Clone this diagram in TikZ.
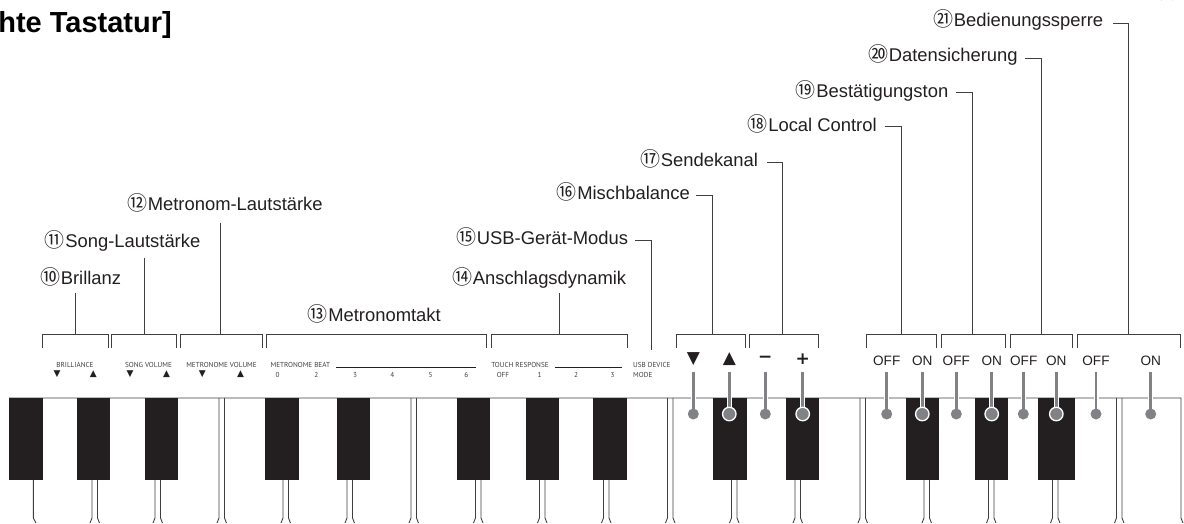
\documentclass[tikz,border=0pt]{standalone}
\usepackage{fontspec}
\setmainfont{Liberation Sans}
\newfontfamily\cjk{Noto Sans CJK JP}
\newfontfamily\din{PT Sans}
\newfontfamily\symf{DejaVu Sans}
\usepackage{tikz}
\usetikzlibrary{positioning, calc}
\definecolor{KB_DARK}{HTML}{231f20}
\definecolor{KB_LINE}{HTML}{3f3f3f}
\definecolor{KB_GREY}{HTML}{808285}
\tikzset{
  lbl/.style={
    inner sep=0pt, anchor=base west,
    text=KB_DARK, font=\fontsize{18.4}{20}\selectfont},
  tiny/.style={
    inner sep=0pt, anchor=base,
    text=KB_LINE, font=\din\fontsize{7.2}{8}\selectfont},
  tinytri/.style={
    inner sep=0pt,
    text=KB_DARK, font=\symf\fontsize{9}{9}\selectfont},
  bigsym/.style={
    inner sep=0pt,
    text=KB_DARK, font=\symf\fontsize{17}{17}\selectfont},
  bigop/.style={
    inner sep=0pt,
    text=KB_DARK, font=\symf\bfseries\fontsize{17}{17}\selectfont},
  swi/.style={
    inner sep=0pt, anchor=base,
    text=KB_DARK, font=\fontsize{13.6}{16}\selectfont},
  blackkey/.style={fill=KB_DARK, draw=none},
  keyln/.style={draw=KB_LINE, line width=0.9pt},
  brk/.style={draw=KB_LINE, line width=1pt},
  ldr/.style={draw=KB_LINE, line width=1pt},
  dot/.style={circle, fill=KB_GREY, minimum size=11pt, inner sep=0pt},
  dotw/.style={circle, fill=KB_GREY, draw=white, line width=1.3pt, minimum size=13.5pt, inner sep=0pt},
}
\newcommand{\KbNum}[1]{{\cjk\fontsize{20}{20}\selectfont #1}\kern0.6pt}

\begin{document}
\begin{tikzpicture}[x=1pt, y=-1pt]
  \useasboundingbox (0,0) rectangle (1184,523);

  % title and cut-off number
  \node[inner sep=0pt, anchor=base east, text=black,
    font=\bfseries\fontsize{29}{30}\selectfont] (title) at (172,32) {hte Tastatur]};
  \draw[KB_DARK, line width=1pt] (1161,0) arc[start angle=200, end angle=340, radius=6.5];

  % keyboard
  \draw[keyln] (9,398) -- (1181,398) -- (1181,518) -- (1183,523);
  \foreach \xa/\xb in {9/43, 77/110, 145/178, 265/299, 337/370, 457/490, 526/559, 593/627,
                       713/747, 786/819, 906/939, 975/1008, 1038/1075}
    \fill[blackkey] (\xa,398) rectangle (\xb,480);
  \draw[keyln] (33.3,480) -- (33.3,518) -- (36,523);
  \foreach \xa in {92, 155, 283, 347, 475.5, 539.5, 603.5, 731.5, 795, 924, 988.5, 1052.5} {
    \draw[keyln] (\xa,480) -- (\xa,518) -- ({\xa-2},523);
    \draw[keyln] ({\xa+5.5},480) -- ({\xa+5.5},518) -- ({\xa+7.5},523);
  }
  \foreach \xa in {219, 411, 667.5, 860, 1116.5} {
    \draw[keyln] (\xa,398) -- (\xa,518) -- ({\xa-2},523);
    \draw[keyln] ({\xa+5.5},398) -- ({\xa+5.5},518) -- ({\xa+7.5},523);
  }

  % brackets
  \foreach \xa/\xb in {42.3/108, 111/176.7, 180.3/262, 266.7/486.7, 491/627,
                       676.7/745.3, 749.7/818.3, 866/936.7, 941.3/1005.3,
                       1010.3/1072.3, 1077.3/1180.3}
    \draw[brk] (\xa,347.5) |- (\xb,334.3) -- (\xb,347.5);

  % labels
  \node[lbl] (l10) at (40,284) {\KbNum{⑩}Brillanz};
  \node[lbl] (l11) at (44.5,247.5) {\KbNum{⑪}Song-Lautstärke};
  \node[lbl] (l12) at (127,210) {\KbNum{⑫}Metronom-Lautstärke};
  \node[lbl] (l13) at (307.5,321.5) {\KbNum{⑬}Metronomtakt};
  \node[lbl] (l14) at (452,284.3) {\KbNum{⑭}Anschlagsdynamik};
  \node[lbl] (l15) at (456,244) {\KbNum{⑮}USB-Gerät-Modus};
  \node[lbl] (l16) at (556.5,199) {\KbNum{⑯}Mischbalance};
  \node[lbl] (l17) at (640,166) {\KbNum{⑰}Sendekanal};
  \node[lbl] (l18) at (747.5,131.7) {\KbNum{⑱}Local Control};
  \node[lbl] (l19) at (795.5,97.3) {\KbNum{⑲}Bestätigungston};
  \node[lbl] (l20) at (868,61.7) {\KbNum{⑳}Datensicherung};
  \node[lbl] (l21) at (933,26.7) {\KbNum{㉑}Bedienungssperre};

  % leaders
  \coordinate (c10) at (75,334.3);
  \coordinate (c11) at (144.7,334.3);
  \coordinate (c12) at (220.7,334.3);
  \coordinate (c14) at (559.5,334.3);
  \coordinate (c15) at (651,350);
  \coordinate (c16) at (712,334.3);
  \coordinate (c17) at (782.7,334.3);
  \coordinate (c18) at (901.7,334.3);
  \coordinate (c19) at (972.5,334.3);
  \coordinate (c20) at (1041,334.3);
  \coordinate (c21) at (1128.3,334.3);
  \draw[ldr] (75,292.7) -- (c10);
  \draw[ldr] (144.7,257.7) -- (c11);
  \draw[ldr] (220.7,222.7) -- (c12);
  \draw[ldr] (559.5,293.3) -- (c14);
  \draw[ldr] ($(l15.base east)+(7,-3.5)$) -| (c15);
  \draw[ldr] ($(l16.base east)+(6,-3.5)$) -| (c16);
  \draw[ldr] ($(l17.base east)+(9,-3.7)$) -| (c17);
  \draw[ldr] ($(l18.base east)+(8,-5)$) -| (c18);
  \draw[ldr] ($(l19.base east)+(8,-5)$) -| (c19);
  \draw[ldr] ($(l20.base east)+(7,-3.7)$) -| (c20);
  \draw[ldr] ($(l21.base east)+(10,-3.4)$) -| (c21);

  % panel print
  \node[tiny] (br) at (75,367.5) {BRILLIANCE};
  \node[tiny] (sv) at (148.5,367.5) {SONG VOLUME};
  \node[tiny] (mv) at (221.5,367.5) {METRONOME VOLUME};
  \node[tiny] (mb) at (300.3,367.5) {METRONOME BEAT};
  \node[tiny] (tr) at (520,367.5) {TOUCH RESPONSE};
  \node[tiny, anchor=base west] (us) at (633,367.5) {USB DEVICE};
  \node[tiny, anchor=base west] (mo) at (633,377) {MODE};
  \draw[draw=KB_DARK, line width=0.7pt] (336,367) -- (476,367);
  \draw[draw=KB_DARK, line width=0.7pt] (555,367) -- (621.7,367);
  \foreach \xa in {57, 130, 202.3}
    \node[tinytri] at (\xa,374) {▼};
  \foreach \xa in {93.3, 166.7, 240.7}
    \node[tinytri] at (\xa,374) {▲};
  \foreach \xa/\txt in {277.7/0, 316.3/2, 355/3, 392.3/4, 430.7/5, 466.3/6, 503/OFF, 539.7/1, 576/2, 612.7/3}
    \node[tiny] at (\xa,377) {\txt};

  % pointers
  \foreach \xa in {693.3, 729.3, 765.3, 802.7, 886.7, 922.3, 956.3, 991.7, 1023.3, 1056.3, 1096, 1150.7} {
    \draw[white, line width=5pt] (\xa,390) -- (\xa,410);
    \draw[KB_GREY, line width=2.6pt] (\xa,372) -- (\xa,414);
  }
  \foreach \xa in {693.3, 765.3, 886.7, 956.3, 1023.3, 1096, 1150.7}
    \node[dot] at (\xa,414) {};
  \foreach \xa in {729.3, 802.7, 922.3, 991.7, 1056.3}
    \node[dotw] at (\xa,414) {};

  % switch captions
  \node[bigsym] (dn) at (693.3,359) {▼};
  \node[bigsym] (up) at (729.3,359) {▲};
  \node[bigop] (mi) at (765.3,359) {−};
  \node[bigop] (pl) at (802.7,359) {+};
  \foreach \xa/\txt in {886.7/OFF, 922.3/ON, 956.3/OFF, 991.7/ON, 1023.7/OFF, 1056.3/ON, 1096/OFF, 1150.7/ON}
    \node[swi] at (\xa,365) {\txt};

\end{tikzpicture}
\end{document}
